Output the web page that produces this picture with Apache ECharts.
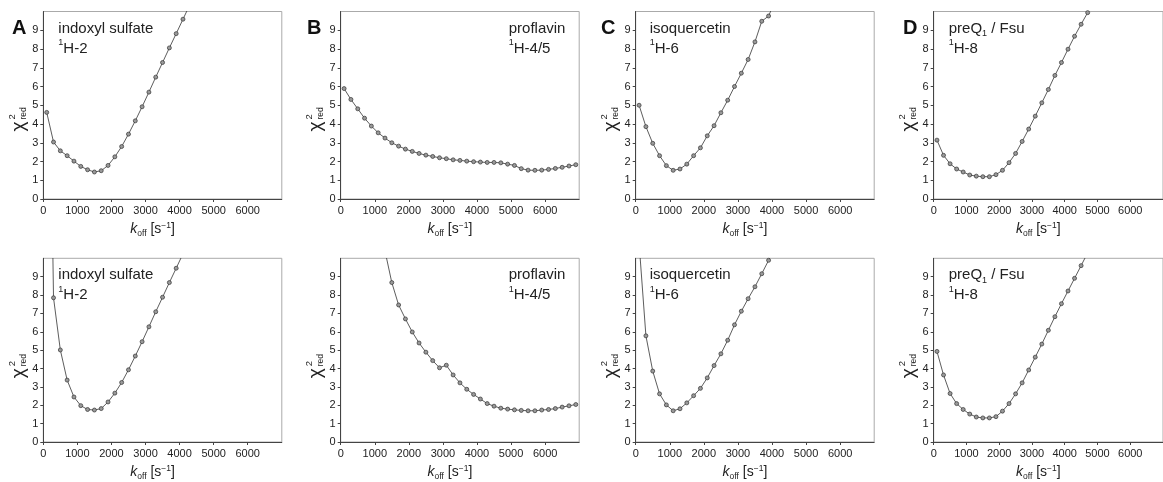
<!DOCTYPE html>
<html>
<head>
<meta charset="utf-8">
<script src="https://cdn.jsdelivr.net/npm/echarts@6/dist/echarts.min.js"></script>
<style>
html,body{margin:0;padding:0;background:#fff;}
#c{width:1163px;height:482px;}
</style>
</head>
<body>
<div id="c"></div>
<script>
// k_off sample positions [s^-1]
const koff = [100,300,500,700,900,1100,1300,1500,1700,1900,2100,2300,2500,2700,2900,3100,3300,3500,3700,3900,4100,4300,4500,4700,4900,5100,5300,5500,5700,5900,6100,6300,6500,6700,6900];

// reduced chi^2, top row
const topA = [4.62,3.04,2.57,2.31,2.02,1.74,1.56,1.44,1.51,1.79,2.25,2.80,3.46,4.17,4.92,5.70,6.50,7.28,8.06,8.82,9.59,10.36];
const topB = [5.89,5.31,4.81,4.31,3.89,3.53,3.25,3.00,2.82,2.66,2.54,2.43,2.34,2.27,2.20,2.15,2.09,2.06,2.02,1.99,1.97,1.95,1.95,1.93,1.86,1.79,1.62,1.54,1.53,1.54,1.58,1.63,1.69,1.76,1.83];
const topC = [5.00,3.86,2.97,2.31,1.78,1.53,1.60,1.86,2.31,2.73,3.37,3.91,4.60,5.27,6.00,6.71,7.44,8.38,9.48,9.76,10.6];
const topD = [3.14,2.33,1.88,1.60,1.44,1.28,1.22,1.19,1.19,1.30,1.53,1.94,2.43,3.07,3.73,4.42,5.13,5.84,6.59,7.28,7.99,8.68,9.32,9.94,10.6];

// reduced chi^2, bottom row
const botA = [32.0,7.85,5.01,3.37,2.45,1.98,1.77,1.74,1.82,2.18,2.66,3.24,3.93,4.68,5.46,6.27,7.09,7.88,8.68,9.46,10.25];
const botB = [31.0,26.0,21.5,17.8,14.8,12.4,10.4,8.68,7.46,6.70,5.99,5.39,4.89,4.43,4.04,4.18,3.65,3.22,2.87,2.59,2.34,2.09,1.95,1.84,1.79,1.75,1.72,1.70,1.70,1.74,1.77,1.82,1.90,1.97,2.04];
const botC = [10.8,5.78,3.86,2.62,2.02,1.70,1.81,2.13,2.52,2.92,3.49,4.16,4.80,5.54,6.38,7.12,7.80,8.45,9.16,9.89,10.6];
const botD = [4.93,3.65,2.64,2.09,1.77,1.52,1.36,1.31,1.31,1.38,1.68,2.09,2.62,3.22,3.92,4.62,5.33,6.08,6.82,7.53,8.22,8.91,9.60,10.3];

const panelLetters = ['A','B','C','D'];
const compounds = ['indoxyl sulfate','proflavin','isoquercetin','preQ{sub|1} / Fsu'];
const nuclei = ['H-2','H-4/5','H-6','H-8'];
const xMin = 0, xMax = 7000, xStep = 1000;
const yMin = 0, yMax = 10, yStep = 1;

const rows = [[topA, topB, topC, topD], [botA, botB, botC, botD]];

const FONT = '"Liberation Sans", Arial, Helvetica, sans-serif';
const L = [43.3, 340.7, 635.7, 933.7];
const T = [11.5, 258.3];
const W = 238.5, H = 187.5;
const letterX = [12, 307, 601, 903];
const annotDX = [15, 168, 14, 15];

const grid = [], xAxis = [], yAxis = [], series = [], graphic = [];
let gi = 0;
for (let r = 0; r < 2; r++) {
  for (let c = 0; c < 4; c++) {
    grid.push({left: L[c], top: T[r], width: W, height: H, show: true,
      borderColor: '#aaa', borderWidth: 1, backgroundColor: 'rgba(0,0,0,0)'});
    xAxis.push({
      gridIndex: gi, type: 'value', min: xMin, max: xMax, interval: xStep,
      axisLine: {onZero: false, lineStyle: {color: '#444', width: 1}},
      axisTick: {length: 3, lineStyle: {color: '#444'}},
      splitLine: {show: false},
      axisLabel: {showMaxLabel: false, fontSize: 11, color: '#222', margin: 6, fontFamily: FONT,
        formatter: v => String(v)},
      name: '{i|k}{sub|off} [s{sup|−1}]',
      nameLocation: 'middle', nameGap: 22,
      nameTextStyle: {fontSize: 14, lineHeight: 17, color: '#222', fontFamily: FONT,
        padding: [0, 20, 0, 0],
        rich: {
          i: {fontSize: 14, fontStyle: 'italic', lineHeight: 17, fontFamily: FONT, color: '#222'},
          sub: {fontSize: 8.5, lineHeight: 9, verticalAlign: 'bottom', fontFamily: FONT, color: '#222'},
          sup: {fontSize: 8.5, lineHeight: 9, verticalAlign: 'top', fontFamily: FONT, color: '#222'}
        }}
    });
    yAxis.push({
      gridIndex: gi, type: 'value', min: yMin, max: yMax, interval: yStep,
      axisLine: {onZero: false, lineStyle: {color: '#444', width: 1}},
      axisTick: {length: 3, lineStyle: {color: '#444'}},
      splitLine: {show: false},
      axisLabel: {showMaxLabel: false, fontSize: 11, color: '#222', margin: 5, fontFamily: FONT}
    });
    const vals = rows[r][c];
    series.push({
      type: 'line', xAxisIndex: gi, yAxisIndex: gi, clip: true, silent: true,
      data: vals.map((v, i) => [koff[i], v]),
      symbol: 'circle', symbolSize: 4, showAllSymbol: true,
      lineStyle: {color: '#333', width: 0.8},
      itemStyle: {color: '#999', borderColor: '#333', borderWidth: 0.7}
    });
    // y axis name chi^2_red
    graphic.push({
      type: 'group', x: L[c] - 25, y: T[r] + 104, rotation: Math.PI / 2,
      children: [
        {type: 'text', x: -16, y: 0, style: {text: 'χ', font: '19px ' + FONT, fill: '#222',
          textAlign: 'left', textVerticalAlign: 'middle', align: 'left', verticalAlign: 'middle'}},
        {type: 'text', x: -4, y: -6, style: {text: '2', font: '9.5px ' + FONT, fill: '#222',
          textAlign: 'left', textVerticalAlign: 'middle', align: 'left', verticalAlign: 'middle'}},
        {type: 'text', x: -4, y: 5, style: {text: 'red', font: '8.5px ' + FONT, fill: '#222',
          textAlign: 'left', textVerticalAlign: 'middle', align: 'left', verticalAlign: 'middle'}}
      ]
    });
    // annotation
    graphic.push({
      type: 'text', x: L[c] + annotDX[c], y: T[r] + 7,
      style: {
        text: '{n|' + compounds[c].replace(/\{sub\|1\}/, '}{sub|1}{n|') + '}\n{sup|1}{n|' + nuclei[c] + '}',
        fill: '#222', font: '15px ' + FONT,
        rich: {
          n: {fontSize: 15, lineHeight: 20, fontFamily: FONT, fill: '#222', color: '#222'},
          sup: {fontSize: 9, lineHeight: 12, verticalAlign: 'top', fontFamily: FONT, fill: '#222', color: '#222'},
          sub: {fontSize: 9, lineHeight: 12, verticalAlign: 'bottom', fontFamily: FONT, fill: '#222', color: '#222'}
        }
      }
    });
    gi++;
  }
}
for (let c = 0; c < 4; c++) {
  graphic.push({type: 'text', x: letterX[c], y: 18,
    style: {text: panelLetters[c], font: 'bold 20px ' + FONT, fill: '#111'}});
}

const chart = echarts.init(document.getElementById('c'), null, {renderer: 'canvas'});
chart.setOption({animation: false, backgroundColor: '#fff', grid, xAxis, yAxis, series, graphic});
</script>
</body>
</html>
